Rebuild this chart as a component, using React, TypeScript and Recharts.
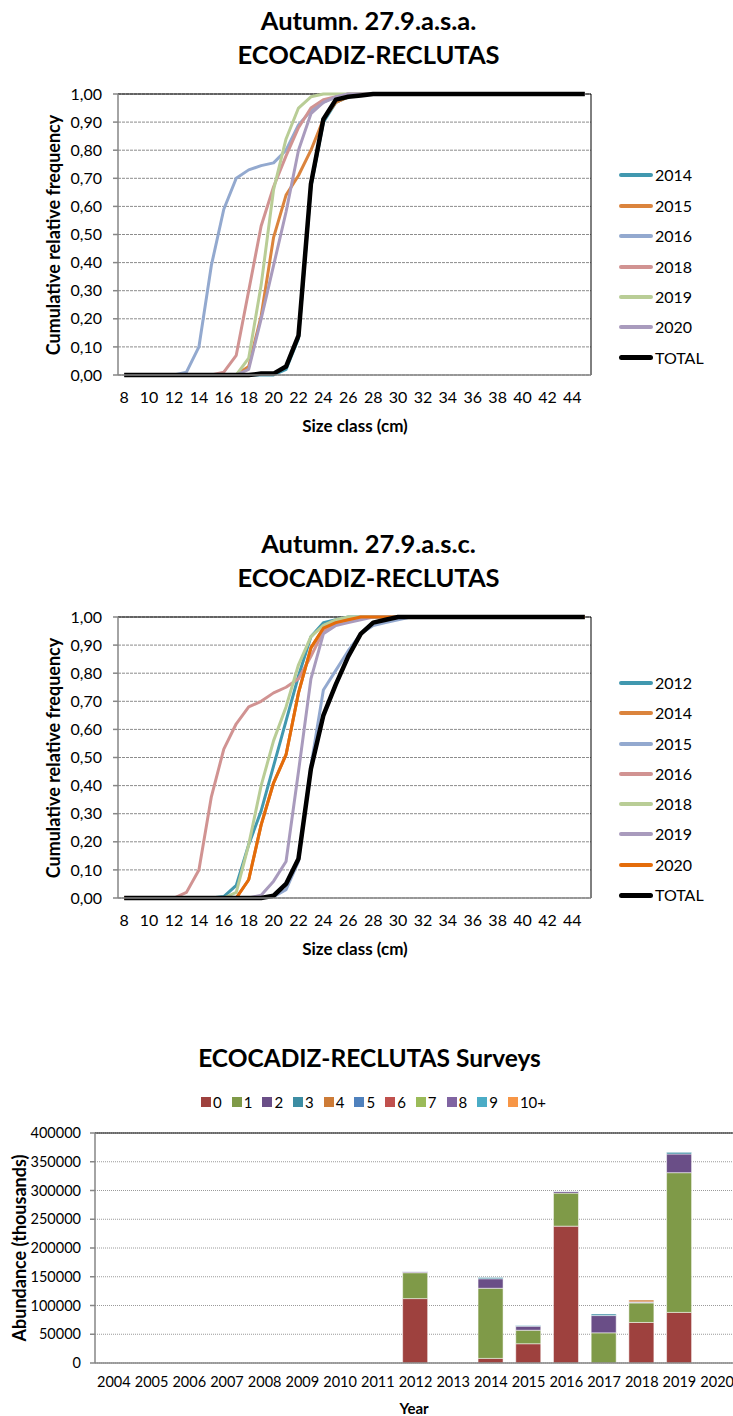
import React from 'react';
import {
  LineChart,
  Line,
  BarChart,
  Bar,
  XAxis,
  YAxis,
  CartesianGrid,
  ReferenceLine,
  Legend,
} from 'recharts';

const FONT = 'Lato, "Open Sans", sans-serif';
const AXIS_GRAY = '#868686';
const GRID_GRAY = '#8c8c8c';

// size classes (cm) and tick labels
const SIZE_CLASSES = [8, 9, 10, 11, 12, 13, 14, 15, 16, 17, 18, 19, 20, 21, 22, 23, 24, 25, 26, 27, 28, 29, 30, 31, 32, 33, 34, 35, 36, 37, 38, 39, 40, 41, 42, 43, 44, 45];
const SIZE_TICKS = [8, 10, 12, 14, 16, 18, 20, 22, 24, 26, 28, 30, 32, 34, 36, 38, 40, 42, 44];
const FREQ_TICKS = [0, 0.1, 0.2, 0.3, 0.4, 0.5, 0.6, 0.7, 0.8, 0.9, 1];

// Autumn 27.9.a.s.a. cumulative relative frequency (8..45 cm)
const ASA_2014 = [0, 0, 0, 0, 0, 0, 0, 0, 0, 0, 0, 0, 0, 0.02, 0.13, 0.67, 0.9, 0.97, 0.99, 1, 1, 1, 1, 1, 1, 1, 1, 1, 1, 1, 1, 1, 1, 1, 1, 1, 1, 1];
const ASA_2015 = [0, 0, 0, 0, 0, 0, 0, 0, 0, 0, 0.03, 0.21, 0.49, 0.64, 0.71, 0.8, 0.91, 0.97, 0.99, 1, 1, 1, 1, 1, 1, 1, 1, 1, 1, 1, 1, 1, 1, 1, 1, 1, 1, 1];
const ASA_2016 = [0, 0, 0, 0, 0, 0.01, 0.1, 0.39, 0.59, 0.7, 0.73, 0.745, 0.755, 0.8, 0.89, 0.94, 0.97, 0.99, 1, 1, 1, 1, 1, 1, 1, 1, 1, 1, 1, 1, 1, 1, 1, 1, 1, 1, 1, 1];
const ASA_2018 = [0, 0, 0, 0, 0, 0, 0, 0, 0.01, 0.07, 0.3, 0.53, 0.67, 0.78, 0.88, 0.95, 0.98, 0.99, 1, 1, 1, 1, 1, 1, 1, 1, 1, 1, 1, 1, 1, 1, 1, 1, 1, 1, 1, 1];
const ASA_2019 = [0, 0, 0, 0, 0, 0, 0, 0, 0, 0, 0.06, 0.32, 0.66, 0.84, 0.95, 0.99, 1, 1, 1, 1, 1, 1, 1, 1, 1, 1, 1, 1, 1, 1, 1, 1, 1, 1, 1, 1, 1, 1];
const ASA_2020 = [0, 0, 0, 0, 0, 0, 0, 0, 0, 0, 0.02, 0.2, 0.39, 0.58, 0.8, 0.93, 0.97, 0.99, 1, 1, 1, 1, 1, 1, 1, 1, 1, 1, 1, 1, 1, 1, 1, 1, 1, 1, 1, 1];
const ASA_TOTAL = [0, 0, 0, 0, 0, 0, 0, 0, 0, 0, 0, 0.005, 0.005, 0.03, 0.14, 0.68, 0.91, 0.98, 0.99, 0.995, 1, 1, 1, 1, 1, 1, 1, 1, 1, 1, 1, 1, 1, 1, 1, 1, 1, 1];

// Autumn 27.9.a.s.c.
const ASC_2012 = [0, 0, 0, 0, 0, 0, 0, 0, 0.005, 0.045, 0.19, 0.31, 0.47, 0.63, 0.79, 0.93, 0.98, 0.99, 1, 1, 1, 1, 1, 1, 1, 1, 1, 1, 1, 1, 1, 1, 1, 1, 1, 1, 1, 1];
const ASC_2014 = [0, 0, 0, 0, 0, 0, 0, 0, 0, 0, 0.065, 0.26, 0.41, 0.51, 0.73, 0.89, 0.96, 0.98, 0.99, 1, 1, 1, 1, 1, 1, 1, 1, 1, 1, 1, 1, 1, 1, 1, 1, 1, 1, 1];
const ASC_2015 = [0, 0, 0, 0, 0, 0, 0, 0, 0, 0, 0, 0, 0.005, 0.03, 0.13, 0.47, 0.74, 0.81, 0.88, 0.94, 0.97, 0.98, 0.99, 1, 1, 1, 1, 1, 1, 1, 1, 1, 1, 1, 1, 1, 1, 1];
const ASC_2016 = [0, 0, 0, 0, 0, 0.02, 0.1, 0.36, 0.53, 0.62, 0.68, 0.7, 0.73, 0.75, 0.78, 0.86, 0.95, 0.98, 0.99, 1, 1, 1, 1, 1, 1, 1, 1, 1, 1, 1, 1, 1, 1, 1, 1, 1, 1, 1];
const ASC_2018 = [0, 0, 0, 0, 0, 0, 0, 0, 0, 0.02, 0.19, 0.4, 0.56, 0.68, 0.83, 0.93, 0.97, 0.99, 1, 1, 1, 1, 1, 1, 1, 1, 1, 1, 1, 1, 1, 1, 1, 1, 1, 1, 1, 1];
const ASC_2019 = [0, 0, 0, 0, 0, 0, 0, 0, 0, 0, 0, 0.01, 0.06, 0.13, 0.45, 0.78, 0.94, 0.97, 0.98, 0.99, 1, 1, 1, 1, 1, 1, 1, 1, 1, 1, 1, 1, 1, 1, 1, 1, 1, 1];
const ASC_2020 = [0, 0, 0, 0, 0, 0, 0, 0, 0, 0, 0.065, 0.26, 0.41, 0.51, 0.73, 0.89, 0.96, 0.98, 0.99, 1, 1, 1, 1, 1, 1, 1, 1, 1, 1, 1, 1, 1, 1, 1, 1, 1, 1, 1];
const ASC_TOTAL = [0, 0, 0, 0, 0, 0, 0, 0, 0, 0, 0, 0, 0.008, 0.05, 0.14, 0.46, 0.65, 0.76, 0.86, 0.94, 0.98, 0.99, 1, 1, 1, 1, 1, 1, 1, 1, 1, 1, 1, 1, 1, 1, 1, 1];

// survey abundance by age (thousands), 2004..2020
const YEARS = ['2004', '2005', '2006', '2007', '2008', '2009', '2010', '2011', '2012', '2013', '2014', '2015', '2016', '2017', '2018', '2019', '2020'];
const ABUND_TICKS = [0, 50000, 100000, 150000, 200000, 250000, 300000, 350000, 400000];
const AGE_0 = [null, null, null, null, null, null, null, null, 112000, null, 8000, 33500, 238000, null, 70500, 88000, null];
const AGE_1 = [null, null, null, null, null, null, null, null, 45000, null, 122000, 23500, 57500, 52500, 34000, 243000, null];
const AGE_2 = [null, null, null, null, null, null, null, null, 1600, null, 16500, 7000, 2800, 30000, 1500, 32500, null];
const AGE_3 = [null, null, null, null, null, null, null, null, 300, null, 2300, 1500, 300, 2700, 300, 2900, null];
const AGE_4 = [null, null, null, null, null, null, null, null, null, null, null, null, null, null, 3200, null, null];
const AGE_5 = [null, null, null, null, null, null, null, null, null, null, null, null, null, null, null, null, null];
const AGE_6 = [null, null, null, null, null, null, null, null, null, null, null, null, null, null, null, null, null];
const AGE_7 = [null, null, null, null, null, null, null, null, null, null, null, null, null, null, null, null, null];
const AGE_8 = [null, null, null, null, null, null, null, null, null, null, null, null, null, null, null, null, null];
const AGE_9 = [null, null, null, null, null, null, null, null, null, null, null, 600, null, null, null, null, null];
const AGE_10 = [null, null, null, null, null, null, null, null, null, null, null, null, null, null, null, null, null];

type Series = { name: string; values: number[]; color: string; width: number };

const ASA_SERIES: Series[] = [
  { name: '2014', values: ASA_2014, color: '#4198AF', width: 3 },
  { name: '2015', values: ASA_2015, color: '#DB843D', width: 3 },
  { name: '2016', values: ASA_2016, color: '#93A9CF', width: 3 },
  { name: '2018', values: ASA_2018, color: '#D19392', width: 3 },
  { name: '2019', values: ASA_2019, color: '#B9CD96', width: 3 },
  { name: '2020', values: ASA_2020, color: '#A99BBD', width: 3 },
  { name: 'TOTAL', values: ASA_TOTAL, color: '#000000', width: 4.5 },
];

const ASC_SERIES: Series[] = [
  { name: '2012', values: ASC_2012, color: '#4198AF', width: 3 },
  { name: '2014', values: ASC_2014, color: '#DB843D', width: 3 },
  { name: '2015', values: ASC_2015, color: '#93A9CF', width: 3 },
  { name: '2016', values: ASC_2016, color: '#D19392', width: 3 },
  { name: '2018', values: ASC_2018, color: '#B9CD96', width: 3 },
  { name: '2019', values: ASC_2019, color: '#A99BBD', width: 3 },
  { name: '2020', values: ASC_2020, color: '#E46C0A', width: 3 },
  { name: 'TOTAL', values: ASC_TOTAL, color: '#000000', width: 4.5 },
];

const AGES = [
  { name: '0', values: AGE_0, color: '#9E413E' },
  { name: '1', values: AGE_1, color: '#7F9A48' },
  { name: '2', values: AGE_2, color: '#6A4E87' },
  { name: '3', values: AGE_3, color: '#3C8DA3' },
  { name: '4', values: AGE_4, color: '#CD7B37' },
  { name: '5', values: AGE_5, color: '#4F81BD' },
  { name: '6', values: AGE_6, color: '#C0504D' },
  { name: '7', values: AGE_7, color: '#9BBB59' },
  { name: '8', values: AGE_8, color: '#8064A2' },
  { name: '9', values: AGE_9, color: '#4BACC6' },
  { name: '10+', values: AGE_10, color: '#F79646' },
];

const fmtFreq = (v: number) => v.toFixed(2).replace('.', ',');
const tickStyle = (size: number) => ({ fill: '#000', fontSize: size, fontFamily: FONT });

function CumulativeChart({
  top,
  series,
  subtitle,
  legendTop,
  legendStep,
}: {
  top: number;
  series: Series[];
  subtitle: string;
  legendTop: number;
  legendStep: number;
}) {
  const rows = SIZE_CLASSES.map((size, i) => {
    const row: Record<string, number> = { size };
    series.forEach((s, k) => (row['s' + k] = s.values[i]));
    return row;
  });
  const edges = SIZE_CLASSES.map((s) => s - 0.5).concat(SIZE_CLASSES[SIZE_CLASSES.length - 1] + 0.5);
  const domain = [edges[0], edges[edges.length - 1]];

  return (
    <div style={{ position: 'absolute', left: 0, top, width: 733, height: 450 }}>
      <div
        style={{
          position: 'absolute', left: 2, top: 3, width: 733, textAlign: 'center',
          fontWeight: 700, fontSize: 25.5, lineHeight: '34px',
        }}
      >
        <div>{subtitle}</div>
        <div>ECOCADIZ-RECLUTAS</div>
      </div>
      <LineChart
        width={733}
        height={440}
        data={rows}
        margin={{ top: 94, right: 142, bottom: 35, left: 58 }}
      >
        <CartesianGrid xAxisId="main" vertical={false} stroke={GRID_GRAY} strokeDasharray="3 1" />
        <XAxis
          xAxisId="edge"
          dataKey="size"
          type="number"
          domain={domain}
          allowDataOverflow
          ticks={edges}
          interval={0}
          tick={false}
          tickSize={5}
          height={6}
          stroke={AXIS_GRAY}
          strokeWidth={1.5}
        />
        <XAxis
          xAxisId="main"
          dataKey="size"
          type="number"
          domain={domain}
          allowDataOverflow
          ticks={SIZE_TICKS}
          interval={0}
          axisLine={false}
          tickLine={false}
          tickSize={0}
          tickMargin={11}
          height={24}
          tick={tickStyle(16)}
        />
        <YAxis
          domain={[0, 1]}
          ticks={FREQ_TICKS}
          interval={0}
          tickFormatter={fmtFreq}
          width={60}
          tickSize={5}
          tickMargin={11}
          stroke={AXIS_GRAY}
          strokeWidth={1.5}
          tick={tickStyle(16)}
        />
        <ReferenceLine xAxisId="main" y={1} stroke="#000" />
        <ReferenceLine xAxisId="main" x={domain[1]} stroke="#000" />
        {series.map((s, k) => (
          <Line
            key={s.name}
            xAxisId="main"
            dataKey={'s' + k}
            name={s.name}
            stroke={s.color}
            strokeWidth={s.width}
            strokeLinejoin="round"
            dot={false}
            isAnimationActive={false}
          />
        ))}
        <Legend
          layout="vertical"
          align="center"
          verticalAlign="middle"
          wrapperStyle={{ left: 619, top: legendTop - legendStep / 2, width: 110, height: legendStep * series.length }}
          content={() => (
            <div>
              {series.map((s) => (
                <div key={s.name} style={{ display: 'flex', alignItems: 'center', height: legendStep }}>
                  <div
                    style={{
                      width: 34, height: s.name === 'TOTAL' ? 5 : 4, background: s.color,
                      borderRadius: 3, flexShrink: 0,
                    }}
                  />
                  <span style={{ marginLeft: 2, fontSize: 16, lineHeight: 1, color: '#000' }}>{s.name}</span>
                </div>
              ))}
            </div>
          )}
        />
      </LineChart>
      <div
        style={{
          position: 'absolute', left: 53 - 150, top: 235 - 11, width: 300, height: 22,
          lineHeight: '22px', textAlign: 'center', fontWeight: 700, fontSize: 18,
          transform: 'rotate(-90deg)',
        }}
      >
        Cumulative relative frequency
      </div>
      <div
        style={{
          position: 'absolute', left: 255, top: 416, width: 200, lineHeight: '20px',
          textAlign: 'center', fontWeight: 700, fontSize: 17,
        }}
      >
        Size class (cm)
      </div>
    </div>
  );
}

function SurveyChart() {
  const rows = YEARS.map((year, i) => {
    const row: Record<string, string | number | null> = { year };
    AGES.forEach((a, k) => (row['a' + k] = a.values[i]));
    return row;
  });
  const edges = YEARS.map((_, i) => i).concat(YEARS.length);

  return (
    <div style={{ position: 'absolute', left: 0, top: 1030, width: 760, height: 386 }}>
      <div
        style={{
          position: 'absolute', left: 3, top: 13, width: 733, textAlign: 'center',
          fontWeight: 700, fontSize: 24.5, lineHeight: '30px',
        }}
      >
        ECOCADIZ-RECLUTAS Surveys
      </div>
      <BarChart
        width={760}
        height={386}
        data={rows}
        barSize={25}
        margin={{ top: 103, right: 24, bottom: 27, left: 35 }}
      >
        <CartesianGrid xAxisId="year" vertical={false} stroke="#9a9a9a" strokeDasharray="1 1" />
        <XAxis
          xAxisId="edge"
          type="number"
          domain={[0, YEARS.length]}
          allowDataOverflow
          ticks={edges}
          interval={0}
          tick={false}
          tickSize={5}
          height={6}
          stroke={AXIS_GRAY}
          strokeWidth={1.5}
        />
        <XAxis
          xAxisId="year"
          dataKey="year"
          interval={0}
          axisLine={false}
          tickLine={false}
          tickSize={0}
          tickMargin={8}
          height={20}
          tick={tickStyle(14.5)}
        />
        <YAxis
          domain={[0, 400000]}
          ticks={ABUND_TICKS}
          interval={0}
          width={60}
          tickSize={5}
          tickMargin={9}
          stroke={AXIS_GRAY}
          strokeWidth={1.5}
          tick={tickStyle(14.5)}
        />
        <ReferenceLine xAxisId="year" y={400000} stroke="#000" />
        {AGES.map((a, k) => (
          <Bar
            key={a.name}
            xAxisId="year"
            dataKey={'a' + k}
            name={a.name}
            stackId="age"
            fill={a.color}
            stroke="rgba(255,255,255,0.5)"
            strokeWidth={1}
            isAnimationActive={false}
          />
        ))}
        <Legend
          layout="vertical"
          align="center"
          verticalAlign="middle"
          wrapperStyle={{ left: 201, top: 64, width: 360, height: 16 }}
          content={() => (
            <div style={{ display: 'flex', alignItems: 'center', height: 16 }}>
              {AGES.map((a) => (
                <div key={a.name} style={{ display: 'flex', alignItems: 'center', width: 30.7, flexShrink: 0 }}>
                  <div style={{ width: 10, height: 10, background: a.color, flexShrink: 0 }} />
                  <span style={{ marginLeft: 2, fontSize: 15, lineHeight: 1, color: '#000' }}>{a.name}</span>
                </div>
              ))}
            </div>
          )}
        />
      </BarChart>
      <div
        style={{
          position: 'absolute', left: 19 - 110, top: 217.7 - 11, width: 220, height: 22,
          lineHeight: '22px', textAlign: 'center', fontWeight: 700, fontSize: 18,
          transform: 'rotate(-90deg)',
        }}
      >
        Abundance (thousands)
      </div>
      <div
        style={{
          position: 'absolute', left: 364, top: 368, width: 100, lineHeight: '20px',
          textAlign: 'center', fontWeight: 700, fontSize: 15,
        }}
      >
        Year
      </div>
    </div>
  );
}

export default function App() {
  return (
    <div
      style={{
        position: 'absolute', left: 0, top: 0, width: 733, height: 1416, overflow: 'hidden',
        background: '#fff', fontFamily: FONT, color: '#000',
      }}
    >
      <CumulativeChart top={0} series={ASA_SERIES} subtitle="Autumn. 27.9.a.s.a." legendTop={175.5} legendStep={30.4} />
      <CumulativeChart top={523} series={ASC_SERIES} subtitle="Autumn. 27.9.a.s.c." legendTop={160} legendStep={30.3} />
      <SurveyChart />
    </div>
  );
}
